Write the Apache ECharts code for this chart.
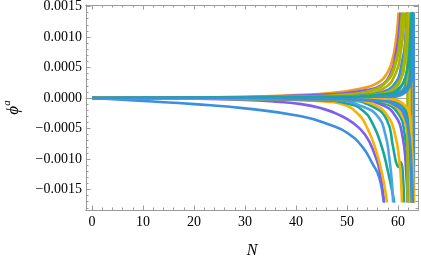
<!DOCTYPE html>
<html><head><meta charset="utf-8">
<script src="https://cdn.jsdelivr.net/npm/echarts@6/dist/echarts.min.js"></script>
<style>html,body{margin:0;padding:0;background:#fff}#c{width:421px;height:261px}</style>
</head><body><div id="c"></div>
<script>
// ---- axis data ----
const N_MAJOR = [0, 10, 20, 30, 40, 50, 60];
const PHI_MAJOR = [-0.0015, -0.0010, -0.0005, 0, 0.0005, 0.0010, 0.0015];
const N_RANGE = [-1.2, 63.9];
const PHI_RANGE = [-0.001836, 0.001525];
const PHI_CLIP = [-0.00169, 0.00138];   // plot range (curves are cut here)

// ---- curves: [N, phi] ----
const d1 = [[0,0],[10,-0.00005],[20,-0.0001],[30,-0.00017],[41,-0.0003],[47,-0.00045],[50,-0.00057],[53,-0.0008],[55,-0.00108],[56.3,-0.0013],[57.1,-0.00165],[57.5,-0.0019]];
const d2 = [[0,0],[20,-0.00001],[30,-0.00003],[36,-0.00006],[41,-0.0001],[45,-0.00017],[48,-0.00026],[51,-0.0004],[53.5,-0.0006],[55.3,-0.0009],[56.6,-0.0013],[57.4,-0.0019]];
const u1 = [[0,0],[20,0.00001],[30,0.00002],[40,0.00005],[46.7,0.00008],[53,0.00016],[56,0.00025],[57.8,0.0004],[58.8,0.0006],[59.5,0.0009],[60,0.0013],[60.3,0.0018]];
const u2 = [[0,0],[30,0.00001],[40,0.00004],[46.7,0.00006],[53,0.00012],[56.5,0.0002],[58.5,0.0004],[59.5,0.0007],[60.2,0.0011],[60.6,0.0018]];
const d3 = [[0,0],[40,-0.00003],[46,-0.00006],[49,-0.0001],[52,-0.00025],[54,-0.0005],[55.8,-0.0009],[57,-0.0013],[57.8,-0.0017],[58.1,-0.0019]];
const d4 = [[0,0],[44,-0.00003],[50,-0.00009],[53,-0.0002],[55,-0.00042],[56.8,-0.0008],[58,-0.0012],[59,-0.0016],[59.6,-0.0019]];
const u3 = [[0,0],[40,0.00002],[50,0.00006],[55,0.00013],[58,0.0003],[59.5,0.0006],[60.4,0.001],[60.9,0.0018]];
const d5 = [[0,0],[48,-0.00004],[53,-0.00014],[56,-0.0003],[57.5,-0.0006],[58.3,-0.001],[58.8,-0.0014],[59.1,-0.0019]];
const u10 = [[0,0],[48,0.00003],[54,0.0001],[57.5,0.00025],[59.3,0.0005],[60.3,0.0009],[60.9,0.0014],[61.1,0.0018]];
const u4 = [[0,0],[45,0.00002],[52,0.00005],[57,0.00015],[59.5,0.0004],[60.6,0.0008],[61.2,0.0013],[61.4,0.0018]];
const d6 = [[0,0],[50,-0.00004],[55,-0.00014],[57.8,-0.00036],[59,-0.0008],[59.6,-0.00105],[60.1,-0.00113],[60.5,-0.00105],[60.9,-0.0012],[61.2,-0.0019]];
const d7 = [[0,0],[50,-0.00003],[55,-0.0001],[58,-0.0003],[59.4,-0.0006],[60.2,-0.001],[60.6,-0.0014],[60.8,-0.0019]];
const u11 = [[0,0],[52,0.00003],[57,0.0001],[60,0.0003],[61.3,0.0008],[61.8,0.0018]];
const u5 = [[0,0],[48,0.00002],[55,0.00006],[59,0.0002],[60.8,0.0006],[61.6,0.0011],[61.9,0.0018]];
const d8 = [[0,0],[52,-0.00003],[57,-0.00012],[59.5,-0.0003],[60.8,-0.0006],[61.5,-0.0011],[61.9,-0.0019]];
const u6 = [[0,0],[50,0.00002],[56,0.00006],[60,0.00025],[61.5,0.0007],[62.1,0.0012],[62.3,0.0018]];
const d9 = [[0,0],[52,-0.00002],[57,-0.00008],[60,-0.00025],[61.3,-0.0006],[62,-0.0012],[62.3,-0.0019]];
const s1 = [[0,0],[55,0.00001],[60,0.00008],[61.6,0.0003],[62.1,0.0009],[62.3,0.0018],[62.35,-0.0019]];
const u7 = [[0,0],[52,0.00001],[58,0.00006],[61,0.00025],[62.2,0.0008],[62.6,0.0018]];
const d10 = [[0,0],[53,-0.00002],[58,-0.00008],[60.5,-0.00025],[61.8,-0.0006],[62.4,-0.0013],[62.6,-0.0019]];
const s2 = [[0,0],[56,0.00001],[61,0.00008],[62.3,0.0004],[62.7,0.0018],[62.75,-0.0019]];
const u8 = [[0,0],[54,0.00001],[59,0.00005],[61.8,0.0003],[62.7,0.001],[62.9,0.0018]];
const d11 = [[0,0],[55,-0.00002],[59,-0.0001],[61.3,-0.0003],[62.3,-0.0008],[62.7,-0.0019]];
const s3 = [[0,0],[52,0.00002],[58,0.0001],[60.8,0.0004],[61.6,0.0011],[61.8,0.0018],[61.85,-0.0019]];
const s4 = [[0,0],[57,-0.00001],[61,-0.0001],[62.5,-0.0005],[62.9,-0.0019],[62.95,0.0018]];
const u9 = [[0,0],[56,0.00001],[60,0.00005],[62.4,0.0004],[63,0.0018]];
const d12 = [[0,0],[56,-0.00002],[60,-0.00008],[62,-0.0004],[62.8,-0.0012],[63,-0.0019]];
const s5 = [[0,0],[56,0.00001],[61.5,0.0001],[62.8,0.0006],[63.05,0.0018],[63.1,-0.0019]];
const d13 = [[0,0],[57,-0.00002],[61,-0.0001],[62.5,-0.0005],[63.1,-0.0019]];
const n1 = [[0,0],[30,0.000005],[50,0.00002],[57,0.00006],[60,0.00015],[61.6,0.0004],[62.4,0.001],[62.7,0.0018]];
const n2 = [[0,0],[30,-0.000005],[50,-0.00002],[57,-0.00005],[60,-0.00012],[61.8,-0.0004],[62.6,-0.0011],[62.9,-0.0019]];

// ---- styling ----
const COL = {blue:'#3a8fdf', lblue:'#4ea2ec', purple:'#7b5ef2', yellow:'#f7b300', orange:'#f59b1d', teal:'#17a69a', olive:'#a9b300'};
const curves = [
  [d1,'blue'],[d2,'purple'],[u1,'orange'],[u2,'purple'],[d3,'yellow'],[d4,'teal'],[u3,'olive'],[d5,'lblue'],
  [u10,'olive'],[u4,'olive'],[d6,'teal'],[d7,'yellow'],[u11,'purple'],[u5,'blue'],[d8,'purple'],[u6,'olive'],
  [d9,'teal'],[s1,'yellow'],[u7,'teal'],[d10,'yellow'],[s2,'teal'],[u8,'blue'],[d11,'blue'],[s3,'olive'],
  [s4,'yellow'],[u9,'teal'],[d12,'teal'],[s5,'blue'],[d13,'yellow'],[n1,'teal'],[n2,'blue']
];

const FRAME = '#9a9a9a';
const FONT = '"Liberation Serif","Times New Roman",serif';
const G0 = {left:86, right:3, top:5, bottom:51};
const H0 = 261 - G0.top - G0.bottom;
const pxPerUnit = H0 / (PHI_RANGE[1] - PHI_RANGE[0]);
const G1 = {left:G0.left, right:G0.right,
  top: G0.top + (PHI_RANGE[1] - PHI_CLIP[1]) * pxPerUnit,
  bottom: G0.bottom + (PHI_CLIP[0] - PHI_RANGE[0]) * pxPerUnit};

const xMinor = [];
for (let i = 0; i < N_MAJOR.length; i++) for (let k = 1; k < 5; k++) { const v = N_MAJOR[i] + k*2; if (v < N_RANGE[1]) xMinor.push(v); }
const yMinor = [];
for (let k = -18; k <= 15; k++) if (k % 5 !== 0) yMinor.push(+(k*0.0001).toFixed(4));

const fmtPhi = v => (v < 0 ? '\u2212' : '') + Math.abs(v).toFixed(4);

function xa(pos, ticks, len, labels, extra) {
  return Object.assign({gridIndex:0, type:'value', position:pos, min:N_RANGE[0], max:N_RANGE[1],
    axisLine:{show:true, onZero:false, lineStyle:{color:FRAME, width:1}},
    axisTick:{show:true, inside:true, length:len, customValues:ticks, lineStyle:{color:FRAME, width:1}},
    axisLabel:labels ? {show:true, customValues:ticks, margin:5, color:'#000', fontFamily:FONT, fontSize:14} : {show:false},
    splitLine:{show:false}}, extra || {});
}
function ya(pos, ticks, len, labels, extra) {
  return Object.assign({gridIndex:0, type:'value', position:pos, min:PHI_RANGE[0], max:PHI_RANGE[1],
    axisLine:{show:true, onZero:false, lineStyle:{color:FRAME, width:1}},
    axisTick:{show:true, inside:true, length:len, customValues:ticks, lineStyle:{color:FRAME, width:1}},
    axisLabel:labels ? {show:true, customValues:ticks, margin:4, color:'#000', fontFamily:FONT, fontSize:14, formatter:fmtPhi} : {show:false},
    splitLine:{show:false}}, extra || {});
}

const option = {
  animation:false,
  backgroundColor:'#fff',
  grid:[Object.assign({containLabel:false, outerBoundsMode:'none'}, G0), Object.assign({containLabel:false, outerBoundsMode:'none'}, G1)],
  xAxis:[
    xa('bottom', N_MAJOR, 4.5, true, {name:'N', nameLocation:'middle', nameGap:33,
      nameTextStyle:{fontFamily:FONT, fontStyle:'italic', fontSize:16, color:'#000'}}),
    xa('top', N_MAJOR, 4.5, false),
    xa('bottom', xMinor, 2.5, false),
    xa('top', xMinor, 2.5, false),
    {gridIndex:0, type:'value', position:'bottom', min:N_RANGE[0], max:N_RANGE[1],
      axisLine:{show:true, onZero:true, lineStyle:{color:'#a8a8a8', width:1}},
      axisTick:{show:false}, axisLabel:{show:false}, splitLine:{show:false}},
    {gridIndex:1, type:'value', show:false, min:N_RANGE[0], max:N_RANGE[1]}
  ],
  yAxis:[
    ya('left', PHI_MAJOR, 4.5, true, {name:'{p|\u03D5}{s|a}', nameLocation:'middle', nameGap:64, nameRotate:90,
      nameTextStyle:{color:'#000', rich:{
        p:{fontFamily:FONT, fontStyle:'italic', fontSize:17, lineHeight:20, verticalAlign:'bottom'},
        s:{fontFamily:FONT, fontStyle:'italic', fontSize:11, lineHeight:20, verticalAlign:'top'}}}}),
    ya('right', PHI_MAJOR, 4.5, false),
    ya('left', yMinor, 2.5, false),
    ya('right', yMinor, 2.5, false),
    {gridIndex:1, type:'value', show:false, min:PHI_CLIP[0], max:PHI_CLIP[1]}
  ],
  series: curves.map(([data, c]) => ({
    type:'line', xAxisIndex:5, yAxisIndex:4, data:data, showSymbol:false, symbol:'none',
    smooth:true, clip:true, silent:true,
    lineStyle:{color:COL[c], width:2.6, cap:'butt'}
  }))
};
const chart = echarts.init(document.getElementById('c'), null, {renderer:'canvas'});
chart.setOption(option);
</script></body></html>
